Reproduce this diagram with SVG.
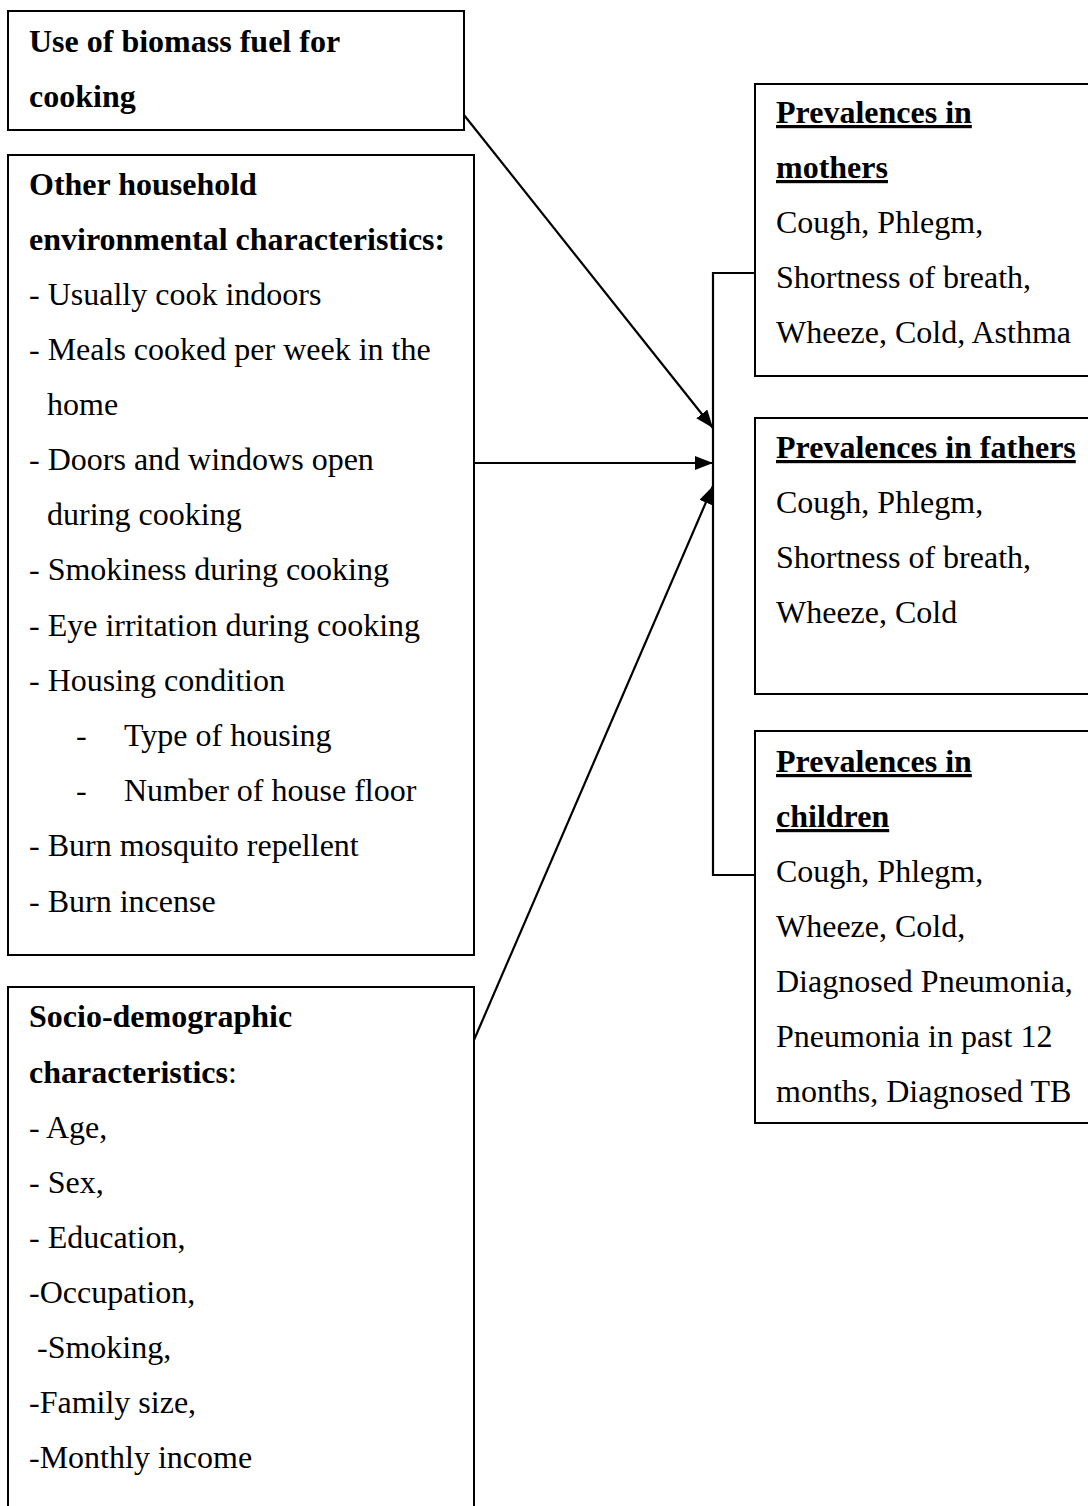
<svg xmlns="http://www.w3.org/2000/svg" width="1088" height="1506" viewBox="0 0 1088 1506">
<style>
.box{fill:#fff;stroke:#000;stroke-width:2}
.ln{fill:none;stroke:#000;stroke-width:2.2}
text{font-family:"Liberation Serif","Times New Roman",serif;font-size:32px;fill:#000}
.b{font-weight:bold}
.u{font-weight:bold;text-decoration:underline}
</style>
<defs>
<marker id="ah" markerUnits="userSpaceOnUse" markerWidth="20" markerHeight="16" viewBox="0 0 20 16" refX="18" refY="7" orient="auto">
<path d="M0,0 L18,7 L0,14 z" fill="#000"/>
</marker>
</defs>
<rect width="1088" height="1506" fill="#fff"/>
<g id="node-biomass">
<rect class="box" x="8" y="11" width="456" height="119"/>
<text class="b" x="29" y="52">Use of biomass fuel for</text>
<text class="b" x="29" y="107">cooking</text>
</g>
<g id="node-household">
<rect class="box" x="8" y="155" width="466" height="800"/>
<text class="b" x="29" y="195">Other household</text>
<text class="b" x="29" y="250">environmental characteristics:</text>
<text x="29" y="305">- Usually cook indoors</text>
<text x="29" y="360">- Meals cooked per week in the</text>
<text x="47" y="415">home</text>
<text x="29" y="470">- Doors and windows open</text>
<text x="47" y="525">during cooking</text>
<text x="29" y="580">- Smokiness during cooking</text>
<text x="29" y="636">- Eye irritation during cooking</text>
<text x="29" y="691">- Housing condition</text>
<text x="76" y="746">-</text>
<text x="124" y="746">Type of housing</text>
<text x="76" y="801">-</text>
<text x="124" y="801">Number of house floor</text>
<text x="29" y="856">- Burn mosquito repellent</text>
<text x="29" y="912">- Burn incense</text>
</g>
<g id="node-socio">
<path class="box" d="M8,1507 V987 H474 V1507"/>
<text x="29" y="1027"><tspan class="b">Socio-demographic</tspan></text>
<text x="29" y="1083"><tspan class="b">characteristics</tspan>:</text>
<text x="29" y="1138">- Age,</text>
<text x="29" y="1193">- Sex,</text>
<text x="29" y="1248">- Education,</text>
<text x="29" y="1303">-Occupation,</text>
<text x="37" y="1358">-Smoking,</text>
<text x="29" y="1413">-Family size,</text>
<text x="29" y="1468">-Monthly income</text>
</g>
<g id="node-mothers">
<path class="box" d="M1090,84 H755 V376 H1090"/>
<text class="u" x="776" y="123">Prevalences in</text>
<text class="u" x="776" y="178">mothers</text>
<text x="776" y="233">Cough, Phlegm,</text>
<text x="776" y="288">Shortness of breath,</text>
<text x="776" y="343">Wheeze, Cold, Asthma</text>
</g>
<g id="node-fathers">
<path class="box" d="M1090,418 H755 V694 H1090"/>
<text class="u" x="776" y="458">Prevalences in fathers</text>
<text x="776" y="513">Cough, Phlegm,</text>
<text x="776" y="568">Shortness of breath,</text>
<text x="776" y="623">Wheeze, Cold</text>
</g>
<g id="node-children">
<path class="box" d="M1090,731 H755 V1123 H1090"/>
<text class="u" x="776" y="772">Prevalences in</text>
<text class="u" x="776" y="827">children</text>
<text x="776" y="882">Cough, Phlegm,</text>
<text x="776" y="937">Wheeze, Cold,</text>
<text x="776" y="992">Diagnosed Pneumonia,</text>
<text x="776" y="1047">Pneumonia in past 12</text>
<text x="776" y="1102">months, Diagnosed TB</text>
</g>
<g id="connectors">
<path class="ln" d="M755,273 H713 V875 H755"/>
<line class="ln" x1="464" y1="115" x2="713" y2="428" marker-end="url(#ah)"/>
<line class="ln" x1="474" y1="463" x2="713" y2="463" marker-end="url(#ah)"/>
<line class="ln" x1="474" y1="1040" x2="713" y2="486" marker-end="url(#ah)"/>
</g>
</svg>
